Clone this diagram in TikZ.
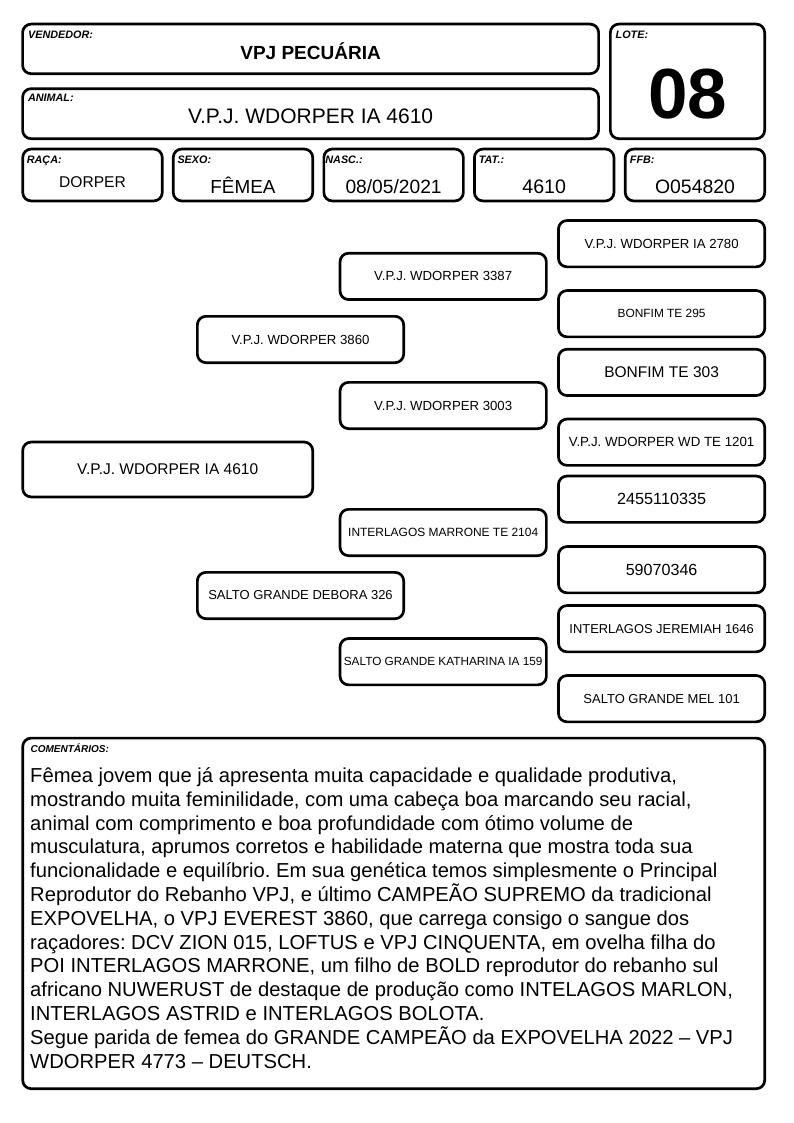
\documentclass[tikz,border=0pt]{standalone}
\usepackage{fontspec}
\setmainfont{Liberation Sans}
\frenchspacing

\begin{document}
\begin{tikzpicture}[x=1pt, y=-1pt,
    caixa/.style={draw, line width=2.7pt, rounded corners=8.5pt, inner sep=0pt},
    rotulo/.style={anchor=base west, inner sep=0pt, font=\fontsize{10.8}{12}\selectfont\bfseries\itshape},
    valor/.style={anchor=base, inner sep=0pt},
    tam/.style={font=\fontsize{#1}{#1}\selectfont},
    geracao/.style={caixa, minimum width=206.3pt, minimum height=46.3pt}]
    \useasboundingbox (0,0) rectangle (794,1123);

    % cabecalho
    \node[caixa, minimum width=576pt, minimum height=49.6pt] (vendedor) at (310.6,48.9) {};
    \node[rotulo] (vendedorRot) at (27.9,38.3) {VENDEDOR:};
    \node[valor, font=\fontsize{19}{19}\selectfont\bfseries] (vendedorVal) at (310.6,60) {VPJ PECUÁRIA};

    \node[caixa, minimum width=576pt, minimum height=50pt] (animal) at (310.6,113.7) {};
    \node[rotulo] (animalRot) at (27.9,101.7) {ANIMAL:};
    \node[valor, tam=21] (animalVal) at (310.6,123.3) {V.P.J. WDORPER IA 4610};

    \node[caixa, minimum width=154.3pt, minimum height=114.6pt] (lote) at (687.5,81.4) {};
    \node[rotulo] (loteRot) at (615.5,38.3) {LOTE:};
    \node[valor, font=\fontsize{71}{71}\selectfont\bfseries] (loteVal) at (687.5,118.3) {08};

    % dados do animal
    \node[caixa, minimum width=139.5pt, minimum height=51.9pt] (raca) at (92.5,175) {};
    \node[rotulo] (racaRot) at (26.7,163.3) {RAÇA:};
    \node[valor, tam=15.6] (racaVal) at (92.5,187.7) {DORPER};

    \node[caixa, minimum width=139.5pt, minimum height=51.9pt] (sexo) at (243,175) {};
    \node[rotulo] (sexoRot) at (177.3,163.3) {SEXO:};
    \node[valor, tam=18.9] (sexoVal) at (243,193.3) {FÊMEA};

    \node[caixa, minimum width=139.5pt, minimum height=51.9pt] (nasc) at (393.6,175) {};
    \node[rotulo] (nascRot) at (325.2,163.3) {NASC.:};
    \node[valor, tam=19.2] (nascVal) at (393.6,193.3) {08/05/2021};

    \node[caixa, minimum width=139.5pt, minimum height=51.9pt] (tat) at (544.2,175) {};
    \node[rotulo] (tatRot) at (478.7,163.3) {TAT.:};
    \node[valor, tam=19.6] (tatVal) at (544.2,193.3) {4610};

    \node[caixa, minimum width=139.5pt, minimum height=51.9pt] (ffb) at (695,175) {};
    \node[rotulo] (ffbRot) at (629.7,163.3) {FFB:};
    \node[valor, tam=19.4] (ffbVal) at (695,193.3) {O054820};

    % genealogia
    \node[caixa, minimum width=290pt, minimum height=54.9pt, tam=15.5] (g0) at (167.7,469.5) {V.P.J. WDORPER IA 4610};

    \node[geracao, tam=13.2] (g1a) at (300.5,339.5) {V.P.J. WDORPER 3860};
    \node[geracao, tam=13] (g1b) at (300.5,595.5) {SALTO GRANDE DEBORA 326};

    \node[geracao, tam=13.2] (g2a) at (443.2,276.4) {V.P.J. WDORPER 3387};
    \node[geracao, tam=13.2] (g2b) at (443.2,405.5) {V.P.J. WDORPER 3003};
    \node[geracao, tam=11.95] (g2c) at (443.2,532.5) {INTERLAGOS MARRONE TE 2104};
    \node[geracao, tam=11.8] (g2d) at (443.2,661.7) {SALTO GRANDE KATHARINA IA 159};

    \node[geracao, tam=13.2] (g3a) at (661.6,243.7) {V.P.J. WDORPER IA 2780};
    \node[geracao, tam=11.9] (g3b) at (661.6,313.7) {BONFIM TE 295};
    \node[geracao, tam=15.5] (g3c) at (661.6,372.4) {BONFIM TE 303};
    \node[geracao, tam=13.3] (g3d) at (661.6,442.2) {V.P.J. WDORPER WD TE 1201};
    \node[geracao, tam=16.2] (g3e) at (661.6,499.2) {2455110335};
    \node[geracao, tam=16.1] (g3f) at (661.6,569.7) {59070346};
    \node[geracao, tam=12.9] (g3g) at (661.6,628.7) {INTERLAGOS JEREMIAH 1646};
    \node[geracao, tam=13] (g3h) at (661.6,698.7) {SALTO GRANDE MEL 101};

    % comentarios
    \node[caixa, minimum width=742pt, minimum height=350.6pt] (coment) at (393.7,913.4) {};
    \node[rotulo, font=\fontsize{10}{12}\selectfont\bfseries\itshape] (comentRot) at (30.4,752.7) {COMENTÁRIOS:};
    \node[anchor=base west, inner sep=0pt, align=left, font=\fontsize{20.2}{23.83}\selectfont] (comentTxt) at (30,1068.3)
      {Fêmea jovem que já apresenta muita capacidade e qualidade produtiva,\\
       mostrando muita feminilidade, com uma cabeça boa marcando seu racial,\\
       animal com comprimento e boa profundidade com ótimo volume de\\
       musculatura, aprumos corretos e habilidade materna que mostra toda sua\\
       funcionalidade e equilíbrio. Em sua genética temos simplesmente o Principal\\
       Reprodutor do Rebanho VPJ, e último CAMPEÃO SUPREMO da tradicional\\
       EXPOVELHA, o VPJ EVEREST 3860, que carrega consigo o sangue dos\\
       raçadores: DCV ZION 015, LOFTUS e VPJ CINQUENTA, em ovelha filha do\\
       POI INTERLAGOS MARRONE, um filho de BOLD reprodutor do rebanho sul\\
       africano NUWERUST de destaque de produção como INTELAGOS MARLON,\\
       INTERLAGOS ASTRID e INTERLAGOS BOLOTA.\\
       Segue parida de femea do GRANDE CAMPEÃO da EXPOVELHA 2022 -- VPJ\\
       WDORPER 4773 -- DEUTSCH.};
\end{tikzpicture}
\end{document}
